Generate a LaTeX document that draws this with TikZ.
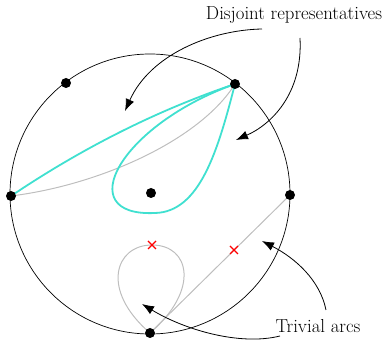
\documentclass[tikz,border=0pt]{standalone}
\usetikzlibrary{arrows.meta}
\definecolor{turq}{RGB}{64,224,208}
\definecolor{arcgrey}{RGB}{190,190,190}
\begin{document}
\begin{tikzpicture}[x=1pt,y=-1pt,
  pt/.style={circle,fill=black,inner sep=0pt,minimum size=10pt},
  lab/.style={font=\fontsize{18.8}{22}\selectfont,inner sep=0pt},
  cyanarc/.style={turq,line width=1.8pt},
  greyarc/.style={arcgrey,line width=1pt},
  pointer/.style={black,line width=0.8pt,-{Latex[length=12pt,width=9pt]}},
  cross/.style={red,line width=1.2pt}]
\useasboundingbox (0,0) rectangle (384,342);
\draw[line width=0.7pt] (150,194) circle[radius=140pt];
% points
\coordinate (TLc) at (66,83);
\coordinate (TRc) at (235,84);
\coordinate (Lc) at (11,196);
\coordinate (Rc) at (290,195);
\coordinate (Bc) at (150,333);
\coordinate (Cc) at (151,193);
% grey arcs
\draw[greyarc] (Lc) .. controls (100,185) and (200,140) .. (TRc);
\draw[greyarc] (Bc) .. controls (100,290) and (115,245) .. (152,245)
               .. controls (190,245) and (200,290) .. (Bc);
\draw[greyarc] (Bc) -- (Rc);
% cyan arcs
\draw[cyanarc] (Lc) .. controls (81,149) and (155,111) .. (TRc);
\draw[cyanarc] (TRc) .. controls (120,125) and (70,217) .. (155,213)
               .. controls (200,212) and (218,150) .. (TRc);
% crosses
\coordinate (X1) at (152,245);
\coordinate (X2) at (234,250);
\foreach \c in {X1,X2}{
  \draw[cross] ([shift={(-4,-4)}]\c) -- ([shift={(4,4)}]\c);
  \draw[cross] ([shift={(-4,4)}]\c) -- ([shift={(4,-4)}]\c);
}
% dots
\node[pt] (TL) at (TLc) {};
\node[pt] (TR) at (TRc) {};
\node[pt] (L) at (Lc) {};
\node[pt] (R) at (Rc) {};
\node[pt] (B) at (Bc) {};
\node[pt] (C) at (Cc) {};
% labels
\node[lab] (dis) at (294,15) {Disjoint representatives};
\node[lab] (tri) at (318,326) {Trivial arcs};
\coordinate (t1) at (125,111);
\coordinate (t2) at (236,140);
\coordinate (t3) at (262,241);
\coordinate (t4) at (142,304);
\draw[pointer] (262,29) .. controls (210,30) and (150,55) .. (t1);
\draw[pointer] (300,38) .. controls (303,95) and (270,125) .. (t2);
\draw[pointer] (326,310) .. controls (320,280) and (295,258) .. (t3);
\draw[pointer] (280,336) .. controls (240,346) and (185,330) .. (t4);
\end{tikzpicture}
\end{document}
